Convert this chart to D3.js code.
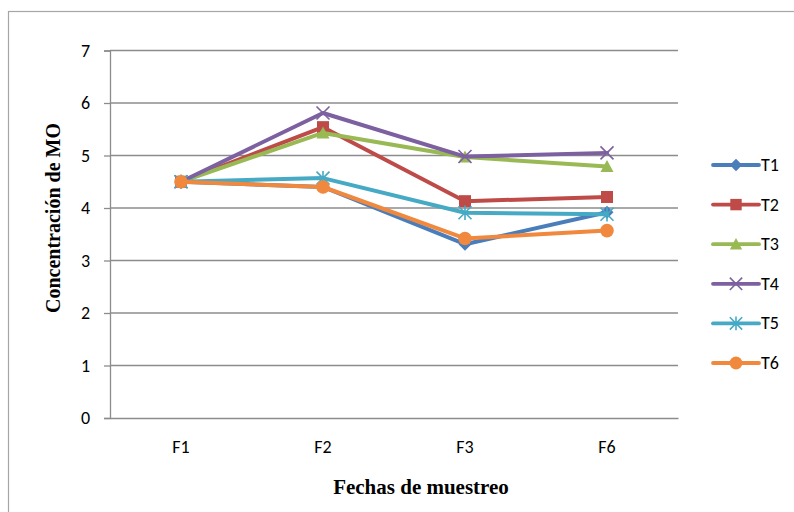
<!DOCTYPE html>
<html>
<head>
<meta charset="utf-8">
<script src="https://cdn.jsdelivr.net/npm/d3@7"></script>
<style>
  html, body { margin: 0; padding: 0; background: #fff; }
  svg { display: block; }
</style>
</head>
<body>
<div id="chart"></div>
<script>
// Sampling dates and organic matter concentration per treatment
const categories = ["F1", "F2", "F3", "F6"];
const seriesNames = ["T1", "T2", "T3", "T4", "T5", "T6"];
const T1 = [4.5, 4.4, 3.31, 3.92];
const T2 = [4.5, 5.54, 4.13, 4.21];
const T3 = [4.5, 5.43, 4.97, 4.79];
const T4 = [4.5, 5.81, 4.98, 5.05];
const T5 = [4.5, 4.57, 3.91, 3.88];
const T6 = [4.5, 4.4, 3.42, 3.57];
const yTicks = [0, 1, 2, 3, 4, 5, 6, 7];

const seriesValues = [T1, T2, T3, T4, T5, T6];
const colors = ["#4A7EBB", "#BE4B48", "#98B954", "#7D60A0", "#46AAC5", "#F0883E"];
const markers = ["diamond", "square", "triangle", "x", "asterisk", "circle"];

const W = 794, H = 512;
const plot = { left: 110, right: 678, top: 50.5, bottom: 418 };
const sansFont = "Carlito, Lato, 'Open Sans', sans-serif";
const serifFont = "'Liberation Serif', 'Times New Roman', serif";

const svg = d3.select("#chart").append("svg")
  .attr("width", W).attr("height", H);

svg.append("rect").attr("width", W).attr("height", H).attr("fill", "#fff");

// Outer chart frame
svg.append("rect")
  .attr("x", 8.5).attr("y", 11.5)
  .attr("width", W).attr("height", H)
  .attr("fill", "none").attr("stroke", "#a6a6a6").attr("stroke-width", 1.2);

const x = d3.scaleBand().domain(categories)
  .range([plot.left, plot.right]).paddingInner(0).paddingOuter(0);
const y = d3.scaleLinear().domain([0, 7]).range([plot.bottom, plot.top]);
const cx = c => x(c) + x.bandwidth() / 2;

// Horizontal gridlines
svg.append("g").selectAll("line").data(yTicks.filter(t => t > 0)).join("line")
  .attr("x1", plot.left).attr("x2", plot.right)
  .attr("y1", d => y(d)).attr("y2", d => y(d))
  .attr("stroke", "#8c8c8c").attr("stroke-width", 1.3);

// Value axis
const yAxis = d3.axisLeft(y).tickValues(yTicks).tickSize(6).tickPadding(14)
  .tickFormat(d3.format("d"));
const gy = svg.append("g").attr("transform", `translate(${plot.left},0)`).call(yAxis);
gy.select(".domain").attr("stroke", "#8c8c8c").attr("stroke-width", 1.3);
gy.selectAll(".tick line").attr("stroke", "#8c8c8c").attr("stroke-width", 1.3);
gy.selectAll(".tick text")
  .attr("font-family", sansFont)
  .attr("font-size", 18).attr("fill", "#000");

// Category axis
const xAxis = d3.axisBottom(x).tickSize(0).tickPadding(22);
const gx = svg.append("g").attr("transform", `translate(0,${plot.bottom})`).call(xAxis);
gx.select(".domain").attr("stroke", "#8c8c8c").attr("stroke-width", 1.3);
gx.selectAll(".tick text")
  .attr("font-family", sansFont)
  .attr("font-size", 18).attr("fill", "#000");

// Axis titles
svg.append("text")
  .attr("x", 421).attr("y", 494)
  .attr("text-anchor", "middle")
  .attr("font-family", serifFont)
  .attr("font-weight", "bold").attr("font-size", 21)
  .text("Fechas de muestreo");

svg.append("text")
  .attr("transform", "translate(60,218) rotate(-90)")
  .attr("text-anchor", "middle")
  .attr("font-family", serifFont)
  .attr("font-weight", "bold").attr("font-size", 20)
  .text("Concentración de MO");

// Marker drawing
function drawMarker(g, type, color, px, py, s) {
  const k = s || 1;
  if (type === "diamond") {
    const r = 6.5 * k;
    g.append("path").attr("d", `M${px},${py - r}L${px + r},${py}L${px},${py + r}L${px - r},${py}Z`)
      .attr("fill", color);
  } else if (type === "square") {
    const r = 6 * k;
    g.append("rect").attr("x", px - r).attr("y", py - r).attr("width", 2 * r).attr("height", 2 * r)
      .attr("fill", color);
  } else if (type === "triangle") {
    const r = 6.5 * k;
    g.append("path").attr("d", `M${px},${py - r}L${px + r},${py + r * 0.85}L${px - r},${py + r * 0.85}Z`)
      .attr("fill", color);
  } else if (type === "x") {
    const r = 6.5 * k;
    g.append("path").attr("d", `M${px - r},${py - r}L${px + r},${py + r}M${px - r},${py + r}L${px + r},${py - r}`)
      .attr("stroke", color).attr("stroke-width", 1.6).attr("fill", "none");
  } else if (type === "asterisk") {
    const r = 6.5 * k;
    g.append("path").attr("d",
      `M${px - r},${py - r}L${px + r},${py + r}M${px - r},${py + r}L${px + r},${py - r}M${px},${py - r * 1.1}L${px},${py + r * 1.1}`)
      .attr("stroke", color).attr("stroke-width", 1.6).attr("fill", "none");
  } else if (type === "circle") {
    g.append("circle").attr("cx", px).attr("cy", py).attr("r", 6.8 * k).attr("fill", color);
  }
}

const line = d3.line().x(d => cx(d.c)).y(d => y(d.v));

seriesValues.forEach((vals, i) => {
  const g = svg.append("g");
  const pts = categories.map((c, j) => ({ c, v: vals[j] }));
  g.append("path").datum(pts)
    .attr("d", line)
    .attr("fill", "none").attr("stroke", colors[i])
    .attr("stroke-width", 4).attr("stroke-linejoin", "round").attr("stroke-linecap", "round");
  pts.forEach(p => drawMarker(g, markers[i], colors[i], cx(p.c), y(p.v)));
});

// Legend
const legendTop = 165, legendStep = 39.6;
seriesNames.forEach((name, i) => {
  const g = svg.append("g");
  const ly = legendTop + i * legendStep;
  g.append("line").attr("x1", 713).attr("x2", 759).attr("y1", ly).attr("y2", ly)
    .attr("stroke", colors[i]).attr("stroke-width", 3.8).attr("stroke-linecap", "round");
  drawMarker(g, markers[i], colors[i], 736, ly, 0.95);
  g.append("text").attr("x", 761).attr("y", ly + 6)
    .attr("font-family", sansFont)
    .attr("font-size", 18).attr("fill", "#000")
    .text(name);
});
</script>
</body>
</html>
